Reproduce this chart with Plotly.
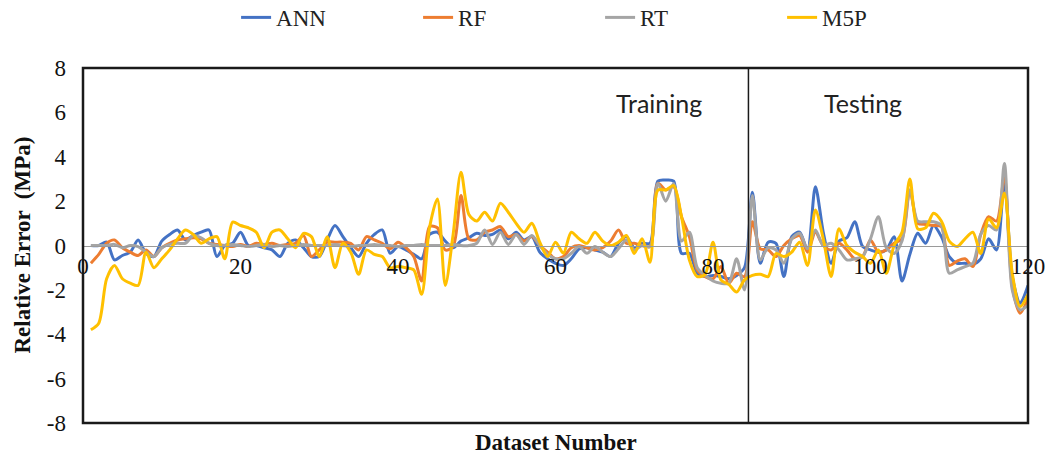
import plotly.graph_objects as go

# Dataset index (1..120); 1-84 training, 85-120 testing
dataset = list(range(1, 121))

ann = [0, 0, 0.15, -0.65, -0.45, -0.3, 0.25, -0.35, -0.5, 0.2,
       0.5, 0.7, 0.25, 0.45, 0.6, 0.7, -0.5, 0, 0.1, 0.6,
       0, 0, -0.1, -0.2, -0.5, 0.1, 0.25, -0.1, -0.5, -0.5,
       0.25, 0.9, 0.4, -0.1, -0.5, 0.1, 0.5, 0.7, -0.35, -0.05,
       -0.2, -0.4, -0.6, 0.5, 0.6, 0.2, -0.1, 0.2, 0.35, 0.55,
       0.45, 0.5, 0.7, 0.3, 0.6, 0.25, 0.4, -0.3, -0.6, -0.8,
       -0.9, -0.6, -0.15, -0.1, -0.2, -0.3, -0.5, 0.1, 0.4, -0.1,
       0.1, 0.1, 2.9, 2.95, 2.9, -0.35, -0.35, -1.25, -1.4, -1.35,
       -1.4, -1.5, -1.35, -1.0, 2.4, -0.8, 0.15, 0.1, -1.4, 0.4,
       0.6, -0.2, 2.65, 0.6, -0.8, 0.2, 0.35, 1.07, -0.05, -0.2,
       -0.3, -0.2, 0.4, -1.6, -0.4, 0.55, 0.1, 0.9, 0.4, -0.5,
       -0.8, -0.8, -0.85, -0.6, 0.3, -0.2, 2.95, -1.4, -2.6, -1.8]

rf = [-0.8, -0.4, 0.1, 0.25, -0.1, -0.3, -0.45, -0.2, -0.5, -0.1,
      0.1, 0.25, 0.3, 0.35, 0.3, 0.1, 0.05, 0.0, -0.05, 0.05,
      -0.05, 0.1, 0.05, 0.1, 0.0, 0.05, 0.1, 0.45, -0.5, -0.2,
      0.15, 0.15, 0.15, 0.1, -0.2, 0.4, 0.25, 0.1, -0.15, 0.15,
      -0.1, -0.5, -1.6, 0.85, 0.8, -0.2, -0.05, 2.25, 0.3, 0.25,
      0.6, 0.7, 0.85, 0.4, 0.5, 0.2, 0.4, 0.0, -0.3, -0.6,
      -0.5, -0.1, 0.0, -0.1, -0.2, -0.1, 0.2, 0.7, 0.1, 0.1,
      0.0, -0.05, 2.8, 2.5, 2.65, 1.3, 0.4, -1.1, -1.4, -1.5,
      -0.95, -1.7, -1.25, -1.4, 1.07, -0.15, -0.2, -0.5, 0.0, 0.3,
      0.45, -0.3, 0.6, 0.0, -0.2, 0.1, -0.2, -0.6, -0.5, 0.25,
      -0.3, -0.2, 0.1, 0.3, 2.5, 1.0, 0.95, 0.9, 0.85, -0.9,
      -0.7, -0.6, -0.95, 0.5, 1.3, 1.1, 3.1, -1.85, -3.05, -2.4]

rt = [0, 0, 0, 0.05, -0.1, 0.0, -0.05, -0.3, -0.5, -0.1,
      0.05, 0.1, 0.1, 0.45, 0.35, 0.1, 0, 0, 0.05, 0,
      -0.05, 0, 0.05, -0.05, 0, -0.05, 0, 0.05, 0, 0,
      0, 0.05, 0, -0.05, 0, 0, 0.05, 0, 0, -0.05,
      0, 0, 0.05, 0, 0, 0, 0.05, 0, 0, 0.1,
      0.7, 0.05, 0.6, 0.05, 0.5, 0.05, 0.45, 0.0, -0.4, -0.6,
      -0.6, -0.35, -0.05, -0.35, -0.05, -0.3, -0.5, -0.15, 0.25, -0.2,
      0.0, -0.05, 2.8, 2.0, 2.8, 0.2, 0.6, -1.0, -1.35, -1.6,
      -1.7, -1.7, -0.6, -2.0, 2.25, -0.65, -0.1, -0.2, -0.8, 0.3,
      0.55, -0.15, 0.7, 0.0, 0.1, -0.2, -0.65, -0.6, -0.5, 0.3,
      1.3, -0.1, -0.36, 0.2, 2.5, 1.1, 1.07, 1.07, 0.9, -1.25,
      -1.1, -0.95, -0.8, 0.5, 0.9, 0.7, 3.7, -2.0, -2.9, -2.7]

m5p = [-3.8, -3.5, -1.5, -0.9, -1.5, -1.7, -1.8, -0.3, -1.0, -0.6,
       -0.2, 0.3, 0.7, 0.5, 0.1, 0.3, 0.4, -0.6, 1.05, 0.9,
       0.8, 0.6, -0.1, 0.6, 0.7, 0.3, -0.1, 0.55, 0.4, -0.5,
       0.4, -1.0, 0.1, -0.3, -1.3, -0.2, -0.4, -0.5, -1.0, -0.95,
       -1.0, -1.1, -2.2, 0.8, 2.1, -1.8, 0.5, 3.3, 1.4, 1.1,
       1.5, 1.1, 1.9, 1.5, 1.0, 0.6, 1.0, 0.15, -0.5, 0.15,
       -0.35, 0.6, 0.3, 0.1, 0.6, 0.2, 0.0, 0.15, 0.45, -0.36,
       0.3, -0.75, 2.5, 2.5, 2.7, 1.3, -0.65, -1.4, -1.3, 0.15,
       -1.55, -1.75, -2.1, -1.55, -1.35, -1.3, -1.4, -0.36, -0.5, -0.3,
       0.15, -0.9, 1.6, 0.3, -1.4, 0.75, 0.0, -0.3, -0.5, -0.8,
       -0.2, -1.25, 0.0, 0.6, 3.0, 0.75, 0.8, 1.45, 1.1, 0.2,
       -0.05, 0.3, 0.6, -0.36, 1.2, 0.8, 2.35, -1.25, -2.75, -2.2]

series_names = ["ANN", "RF", "RT", "M5P"]
series_colors = ["#4472C4", "#ED7D31", "#A5A5A5", "#FFC000"]
x_ticks = [0, 20, 40, 60, 80, 100, 120]
y_ticks = [-8, -6, -4, -2, 0, 2, 4, 6, 8]
split_at = 84.5

serif = "Liberation Serif, Times New Roman, serif"

fig = go.Figure()
for name, vals, col in zip(series_names, [ann, rf, rt, m5p], series_colors):
    fig.add_trace(go.Scatter(
        x=dataset, y=vals, name=name, mode="lines",
        line=dict(color=col, width=3, shape="spline", smoothing=0.8),
    ))

fig.update_layout(
    width=1057, height=459,
    margin=dict(l=83, r=25, t=68, b=36),
    plot_bgcolor="white", paper_bgcolor="white",
    showlegend=True,
    legend=dict(
        orientation="h", x=0.162, xanchor="left",
        y=0.962, yanchor="middle", yref="container",
        entrywidth=137, entrywidthmode="pixels",
        font=dict(family=serif, size=23, color="#222"),
        bgcolor="rgba(0,0,0,0)",
    ),
    xaxis=dict(
        range=[0, 120], tickvals=x_ticks, ticktext=[str(t) for t in x_ticks],
        showgrid=False, zeroline=False, ticks="",
        anchor="free", position=0.5,
        showline=True, linecolor="#9a9a9a", linewidth=1.2,
        tickfont=dict(family=serif, size=23, color="#111"),
    ),
    yaxis=dict(
        range=[-8, 8], tickvals=y_ticks, ticktext=[str(t) for t in y_ticks],
        showgrid=False, zeroline=False,
        ticks="", showline=False, ticklabelstandoff=16,
        tickfont=dict(family=serif, size=23, color="#111"),
    ),
)

# Plot frame and the training/testing divider
fig.add_shape(type="rect", xref="paper", yref="paper", x0=0, x1=1, y0=0, y1=1,
              line=dict(color="#1a1a1a", width=2.5), layer="above")
fig.add_shape(type="line", xref="x", yref="paper", x0=split_at, x1=split_at,
              y0=0, y1=1, line=dict(color="#1a1a1a", width=1.5), layer="above")

label_font = dict(family="Lato, Carlito, Calibri, sans-serif", size=25, color="#222")
fig.add_annotation(x=73.2, y=6.42, xref="x", yref="y", text="Training",
                   showarrow=False, font=label_font)
fig.add_annotation(x=99.0, y=6.42, xref="x", yref="y", text="Testing",
                   showarrow=False, font=label_font)

title_font = dict(family=serif, size=23, color="#111")
fig.add_annotation(x=0.5, y=0, xref="paper", yref="paper", yshift=-19,
                   text="<b>Dataset Number</b>", showarrow=False,
                   font=title_font, yanchor="middle")
fig.add_annotation(x=0, y=0.5, xref="paper", yref="paper", xshift=-61,
                   text="<b>Relative Error  (MPa)</b>", showarrow=False,
                   textangle=-90, font=title_font, xanchor="center")

fig.write_html("out.html")
